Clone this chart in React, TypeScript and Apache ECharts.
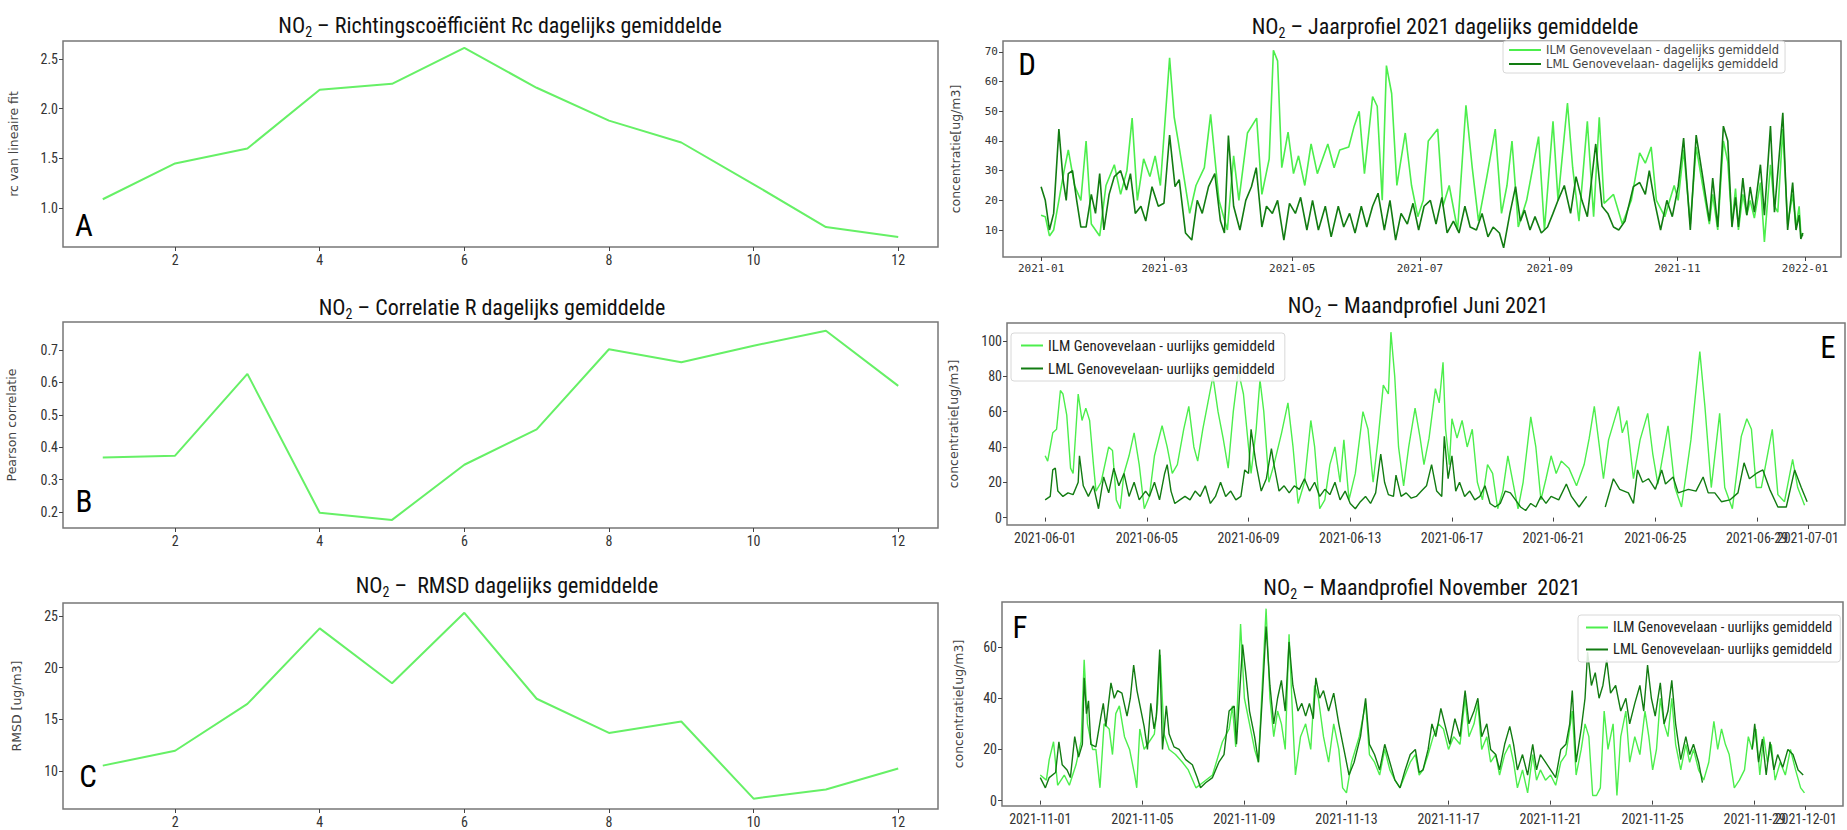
import React, { useEffect, useRef } from "react";
import * as echarts from "echarts";

// ---------- data ----------
const months = [1, 2, 3, 4, 5, 6, 7, 8, 9, 10, 11, 12];
const rcValues = [1.09, 1.45, 1.6, 2.19, 2.25, 2.61, 2.21, 1.88, 1.66, 1.24, 0.81, 0.71];
const pearsonValues = [0.368, 0.374, 0.626, 0.198, 0.176, 0.346, 0.455, 0.702, 0.662, 0.713, 0.759, 0.589];
const rmsdValues = [10.54, 11.98, 16.5, 23.8, 18.5, 25.3, 17.0, 13.7, 14.8, 7.35, 8.24, 10.26];

const monthTicks = [2, 4, 6, 8, 10, 12];
const rcTicks = [1.0, 1.5, 2.0, 2.5];
const pearsonTicks = [0.2, 0.3, 0.4, 0.5, 0.6, 0.7];
const rmsdTicks = [10, 15, 20, 25];
const yearTicksY = [10, 20, 30, 40, 50, 60, 70];
const juneTicksY = [0, 20, 40, 60, 80, 100];
const novTicksY = [0, 20, 40, 60];

// [day of year offset, ug/m3]
const ilmYear: [number, number][] = [
  [0, 15], [2, 14.5], [4, 8], [6, 10], [8.5, 20], [11, 30], [13, 37], [16, 25], [19, 20], [21.5, 40], [24, 12], [28, 8],
  [31, 25], [35, 32], [38, 22], [41, 30], [43.5, 47.7], [46, 20], [49, 34], [52, 28], [54.5, 35], [57, 25], [61.4, 68],
  [63.6, 48], [65.5, 40], [68, 29], [71, 15.6], [74, 25], [78, 31], [81, 49], [85, 20], [89, 10], [92, 35], [94.5, 20],
  [98.6, 42.7], [103, 47.7], [105.5, 22], [109, 34], [111, 70.6], [113, 67], [115, 31], [118, 43], [120.6, 29], [123, 35],
  [126, 25], [129, 39], [132, 29], [134.5, 34], [137, 39], [140, 31], [142.7, 37], [147, 38], [149.6, 45], [152, 50],
  [154.5, 29], [158.4, 55], [160.6, 51.7], [163, 20], [165, 65.4], [167.5, 56], [170, 25], [174, 42.7], [177, 25],
  [180, 14.5], [182.6, 20], [185, 40], [189.5, 44], [192, 18], [195, 25], [199, 10], [203, 52], [206, 31], [209, 13],
  [213, 28], [217, 44], [220, 15.6], [222.6, 25], [225, 40], [228, 11], [232, 20], [237.7, 41.5], [240.5, 10],
  [244.6, 46.6], [247, 20], [251.5, 52.8], [254, 31], [257, 13], [261, 46.6], [264, 14.5], [266.7, 48], [269, 19],
  [273.5, 22], [277.7, 12], [282, 20], [286, 36], [288.7, 32.5], [291.5, 38], [294, 20], [298, 14.5], [302.5, 25],
  [304.4, 20], [307, 37], [310.2, 12], [313, 38], [316.1, 25], [319.3, 12], [320.9, 22], [323.3, 10], [326, 40],
  [328.1, 33], [330.1, 12], [331.8, 24], [333.2, 10], [335.3, 22], [337.2, 15], [338.8, 20], [340.8, 14], [343.7, 26],
  [345.6, 6], [348.5, 32], [350.4, 18], [352, 16], [354.4, 44], [356.7, 12], [359.1, 22], [360.7, 11], [362.2, 18],
  [363, 9], [364, 8],
];
const lmlYear: [number, number][] = [
  [0, 24.6], [2, 20], [4, 10], [6, 15.6], [8.5, 44], [10.5, 27], [12, 20], [13, 29], [15, 30], [17, 20], [19, 11],
  [21.5, 11], [24, 22], [26, 15.6], [28, 29], [30, 10], [32.5, 22], [35, 28], [38, 30], [40.8, 23.5], [42.7, 29],
  [45, 15.6], [47.7, 18], [50, 13], [53, 24.6], [56, 18], [58.7, 19], [61.4, 42], [64, 24.6], [66, 27], [69, 9],
  [72, 6.6], [74.6, 20], [77, 15.6], [80, 24.6], [83, 29], [85.7, 13], [87.6, 9], [89.5, 41.8], [92, 18], [95, 10],
  [97.8, 20], [100.5, 24.6], [102.8, 31], [105.5, 11], [107.7, 18], [110.5, 15.6], [113, 20], [116, 6.6], [118.7, 19],
  [121.5, 15.6], [124, 21], [127, 10], [129.7, 20], [132.5, 10], [135.8, 18], [138.6, 7.7], [142, 18], [144.6, 11],
  [147.4, 15.6], [150, 9], [153, 18], [155.6, 11], [158.4, 18], [161, 22.4], [164, 10], [166.7, 20], [169.4, 6.6],
  [172, 15.6], [175, 12], [177.7, 19], [180.4, 10], [183, 18], [186, 20], [188.7, 12], [191.5, 21], [194, 9], [197, 13],
  [199.7, 9], [202.5, 18], [205, 11], [208, 10], [210.7, 15.6], [213.5, 7.7], [216, 11], [219, 9], [221, 4],
  [224, 15.6], [226.7, 24.6], [229, 13], [231, 16.7], [233.6, 10], [236, 14.5], [239, 9], [242, 11], [244.6, 15.6],
  [247, 20], [250, 25], [253, 15.6], [255.6, 28], [258.4, 20], [261, 14.5], [265, 39], [268, 18], [270.8, 15.6],
  [273.5, 11], [276, 10], [279, 13], [283, 24.6], [286, 26], [288.7, 22], [290.6, 30], [293, 20], [296, 10], [299, 20],
  [301.6, 14.5], [304.4, 24.6], [307, 41], [310.2, 10], [313, 42], [316.1, 28], [319.3, 13], [320.9, 27.5],
  [323.3, 11], [326, 45], [328.1, 40], [330.1, 11], [331.8, 21], [333.2, 11], [335.3, 27.5], [337.2, 15], [338.8, 24.5],
  [340.8, 16], [343.7, 32], [345.6, 15], [348.5, 45], [350.4, 16], [354.4, 49.5], [356.7, 10], [359.1, 26],
  [360.7, 10], [362.2, 15], [363, 7], [364, 9],
];

// [day offset from 2021-06-01, ug/m3]
const ilmJune: [number, number | null][] = [
  [0, 35], [0.1, 32], [0.3, 48], [0.45, 50], [0.6, 72], [0.7, 70], [0.85, 58], [1.0, 28], [1.1, 25], [1.3, 70],
  [1.45, 55], [1.6, 62], [1.75, 55], [1.9, 30], [2.0, 15], [2.2, 20], [2.5, 40], [2.65, 38], [2.8, 10], [2.95, 5],
  [3.1, 25], [3.3, 35], [3.5, 48], [3.7, 30], [3.9, 5], [4.1, 12], [4.3, 35], [4.6, 52], [4.8, 40], [5.0, 25], [5.2, 30],
  [5.45, 50], [5.65, 63], [5.85, 40], [6.0, 32], [6.2, 50], [6.4, 65], [6.6, 80], [6.8, 60], [7.0, 45], [7.2, 28],
  [7.4, 60], [7.6, 83], [7.8, 70], [8.0, 40], [8.1, 25], [8.3, 50], [8.45, 78], [8.6, 60], [8.8, 20], [9.0, 30],
  [9.3, 48], [9.55, 65], [9.75, 40], [9.95, 8], [10.2, 20], [10.45, 55], [10.6, 40], [10.8, 5], [11.0, 10], [11.2, 30],
  [11.4, 40], [11.6, 20], [11.75, 44], [11.95, 10], [12.2, 25], [12.5, 60], [12.7, 50], [12.9, 20], [13.1, 45],
  [13.3, 75], [13.5, 70], [13.6, 105], [13.75, 80], [13.9, 40], [14.1, 18], [14.3, 40], [14.55, 62], [14.75, 45],
  [14.9, 30], [15.1, 45], [15.35, 73], [15.5, 65], [15.65, 88], [15.75, 50], [15.9, 30], [16.0, 56], [16.2, 45],
  [16.4, 55], [16.6, 40], [16.8, 50], [17.0, 20], [17.2, 10], [17.4, 30], [17.6, 25], [17.8, 5], [18.0, 15], [18.2, 35],
  [18.4, 20], [18.6, 5], [18.8, 20], [19.1, 57], [19.3, 40], [19.5, 10], [19.7, 22], [19.9, 35], [20.1, 25], [20.3, 32],
  [20.6, 28], [20.9, 18], [21.2, 30], [21.4, 45], [21.6, 63], [21.96, 22], [22.16, 44], [22.55, 63], [22.7, 48],
  [22.88, 55], [23.14, 22], [23.4, 44], [23.7, 59], [23.9, 36], [24.1, 19], [24.5, 52], [24.77, 17], [25.03, 6],
  [25.4, 44], [25.75, 94], [25.95, 63], [26.2, 17], [26.53, 59], [26.73, 17], [27.03, 5], [27.38, 46], [27.6, 56],
  [27.78, 50], [27.97, 17], [28.17, 17], [28.6, 50], [28.82, 13], [29.08, 9], [29.4, 33], [29.6, 17], [29.87, 7],
];
const lmlJune: [number, number | null][] = [
  [0, 10], [0.2, 12], [0.3, 27], [0.4, 28], [0.5, 15], [0.7, 12], [0.9, 14], [1.1, 13], [1.3, 20], [1.35, 35],
  [1.5, 18], [1.7, 12], [1.9, 18], [2.1, 5], [2.3, 23], [2.5, 14], [2.7, 28], [2.9, 18], [3.1, 25], [3.3, 12], [3.5, 20],
  [3.7, 10], [3.95, 15], [4.1, 12], [4.3, 20], [4.5, 10], [4.7, 25], [4.8, 30], [4.95, 15], [5.1, 8], [5.3, 10],
  [5.5, 12], [5.7, 10], [5.9, 15], [6.1, 12], [6.3, 18], [6.5, 8], [6.7, 12], [6.9, 20], [7.1, 12], [7.3, 15], [7.5, 10],
  [7.7, 12], [7.85, 27], [8.0, 25], [8.1, 50], [8.3, 30], [8.5, 15], [8.7, 22], [8.9, 39], [9.0, 30], [9.2, 15],
  [9.4, 18], [9.6, 14], [9.8, 18], [10.0, 16], [10.2, 22], [10.4, 15], [10.6, 20], [10.8, 12], [11.0, 16], [11.2, 13],
  [11.4, 20], [11.6, 10], [11.8, 15], [12.0, 8], [12.2, 5], [12.4, 9], [12.6, 12], [12.8, 8], [13.0, 14], [13.2, 36],
  [13.35, 20], [13.5, 13], [13.7, 12], [13.8, 24], [14.0, 12], [14.2, 14], [14.4, 11], [14.6, 12], [14.8, 15],
  [15.0, 18], [15.2, 30], [15.4, 15], [15.6, 12], [15.7, 46], [15.85, 22], [16.0, 35], [16.15, 15], [16.3, 20],
  [16.5, 12], [16.7, 15], [16.9, 10], [17.1, 12], [17.3, 18], [17.5, 8], [17.7, 6], [17.9, 8], [18.1, 15], [18.3, 14],
  [18.5, 10], [18.7, 6], [18.9, 4], [19.1, 8], [19.3, 6], [19.5, 12], [19.7, 8], [19.9, 12], [20.2, 10], [20.5, 19],
  [20.7, 12], [21.0, 6], [21.3, 12], [21.6, null], [22.03, 6], [22.35, 22], [22.6, 16], [22.94, 14], [23.14, 8],
  [23.3, 27], [23.5, 20], [23.73, 22], [24.0, 16], [24.25, 27], [24.4, 19], [24.7, 23], [24.9, 14], [25.3, 16],
  [25.6, 15], [25.88, 23], [26.08, 14], [26.34, 14], [26.6, 9], [26.93, 10], [27.25, 14], [27.49, 31], [27.7, 22],
  [27.97, 25], [28.23, 27], [28.5, 16], [28.82, 6], [29.15, 6], [29.48, 27], [29.74, 17], [29.97, 9],
];

// [day offset from 2021-11-01, ug/m3]
const ilmNov: [number, number | null][] = [
  [0, 10], [0.24, 8], [0.35, 16], [0.52, 23], [0.68, 6], [0.94, 10], [1.14, 6], [1.4, 14], [1.6, 23], [1.72, 55],
  [1.85, 30], [2.05, 20], [2.18, 20], [2.34, 5], [2.5, 30], [2.7, 28], [2.83, 18], [2.96, 34], [3.1, 37], [3.3, 25],
  [3.5, 20], [3.7, 10], [3.78, 5], [3.9, 28], [4.07, 20], [4.27, 23], [4.47, 26], [4.6, 38], [4.7, 57], [4.85, 26],
  [5.05, 20], [5.3, 18], [5.57, 15], [5.8, 12], [6.1, 5], [6.36, 7], [6.75, 10], [7.14, 23], [7.4, 28], [7.53, 37],
  [7.66, 21], [7.85, 69], [8.0, 40], [8.2, 30], [8.4, 20], [8.55, 15], [8.7, 45], [8.85, 75], [9.0, 40], [9.15, 25],
  [9.3, 35], [9.45, 30], [9.6, 20], [9.75, 65], [9.9, 30], [10.0, 10], [10.2, 25], [10.4, 30], [10.6, 20], [10.75, 45],
  [10.9, 40], [11.1, 25], [11.3, 15], [11.5, 30], [11.7, 20], [11.85, 5], [12.0, 3], [12.2, 15], [12.5, 25],
  [12.75, 38], [12.9, 18], [13.1, 15], [13.3, 10], [13.5, 20], [13.7, 12], [13.9, 8], [14.1, 5], [14.3, 10], [14.5, 15],
  [14.7, 18], [14.85, 10], [15.0, 12], [15.2, 18], [15.4, 25], [15.6, 30], [15.8, 28], [16.0, 20], [16.2, 25],
  [16.45, 22], [16.65, 40], [16.8, 25], [17.0, 30], [17.15, 38], [17.3, 20], [17.5, 25], [17.65, 15], [17.85, 18],
  [18.0, 10], [18.2, 18], [18.4, 22], [18.55, 15], [18.7, 5], [18.9, 12], [19.1, 3], [19.3, 18], [19.45, 8], [19.6, 12],
  [19.8, 8], [20.0, 10], [20.2, 6], [20.4, 15], [20.6, 18], [20.85, 35], [21.0, 10], [21.2, 20], [21.35, 30],
  [21.5, 25], [21.65, 2], [21.8, 2], [21.95, 5], [22.1, 35], [22.25, 20], [22.45, 30], [22.6, 2], [22.75, 25],
  [22.95, 35], [23.1, 15], [23.3, 25], [23.5, 18], [23.7, 35], [23.85, 25], [24.0, 12], [24.15, 20], [24.3, 40],
  [24.45, 30], [24.6, 25], [24.75, 40], [24.9, 22], [25.1, 12], [25.3, 22], [25.45, 15], [25.6, 20], [25.8, 12],
  [26.0, 8], [26.2, 15], [26.4, 31], [26.55, 20], [26.7, 28], [26.85, 22], [27.0, 18], [27.2, 5], [27.4, 8], [27.6, 12],
  [27.75, 25], [27.9, 20], [28.05, 28], [28.2, 10], [28.35, 25], [28.5, 15], [28.65, 22], [28.8, 8], [29.0, 15],
  [29.2, 10], [29.4, 20], [29.6, 12], [29.8, 5], [29.95, 3],
];
const lmlNov: [number, number | null][] = [
  [0, 9], [0.2, 5], [0.35, 9], [0.6, 11], [0.73, 23], [0.86, 14], [1.05, 12], [1.18, 9], [1.35, 25], [1.5, 17],
  [1.65, 22], [1.72, 48], [1.81, 34], [1.89, 39], [1.98, 22], [2.18, 21], [2.38, 33], [2.47, 38], [2.57, 29],
  [2.77, 46], [2.9, 40], [3.03, 43], [3.2, 42], [3.4, 33], [3.53, 40], [3.66, 53], [3.79, 43], [4.07, 29], [4.2, 20],
  [4.33, 38], [4.46, 28], [4.55, 33], [4.68, 59], [4.79, 20], [4.94, 37], [5.05, 26], [5.24, 21], [5.44, 20], [5.7, 16],
  [5.96, 14], [6.15, 9], [6.28, 5], [6.48, 7], [6.75, 9], [7.0, 15], [7.2, 18], [7.4, 35], [7.6, 37], [7.69, 22],
  [7.93, 61], [8.05, 50], [8.2, 35], [8.4, 25], [8.55, 15], [8.7, 40], [8.85, 68], [9.0, 45], [9.15, 30], [9.3, 40],
  [9.45, 47], [9.6, 35], [9.75, 62], [9.9, 45], [10.1, 35], [10.25, 38], [10.4, 33], [10.55, 38], [10.7, 32],
  [10.8, 48], [10.95, 40], [11.1, 43], [11.3, 35], [11.5, 42], [11.7, 30], [11.9, 20], [12.1, 10], [12.3, 15],
  [12.55, 25], [12.75, 40], [12.9, 22], [13.1, 18], [13.3, 12], [13.5, 22], [13.7, 15], [13.9, 8], [14.1, 5], [14.3, 12],
  [14.5, 18], [14.7, 20], [14.85, 11], [15.0, 12], [15.2, 20], [15.35, 30], [15.5, 25], [15.7, 36], [15.85, 30],
  [16.05, 22], [16.25, 32], [16.45, 25], [16.65, 43], [16.8, 30], [17.0, 35], [17.15, 40], [17.3, 25], [17.5, 30],
  [17.65, 20], [17.85, 18], [18.0, 12], [18.2, 22], [18.4, 29], [18.55, 22], [18.7, 12], [18.9, 18], [19.1, 10],
  [19.3, 22], [19.45, 12], [19.6, 18], [19.8, 15], [20.0, 12], [20.2, 9], [20.4, 20], [20.6, 22], [20.75, 30],
  [20.85, 43], [21.0, 15], [21.2, 28], [21.35, 40], [21.45, 58], [21.6, 45], [21.75, 50], [21.9, 40], [22.05, 45],
  [22.2, 55], [22.35, 42], [22.55, 45], [22.75, 35], [22.95, 40], [23.1, 30], [23.3, 38], [23.5, 45], [23.65, 35],
  [23.8, 53], [23.95, 40], [24.1, 33], [24.3, 46], [24.45, 30], [24.6, 35], [24.75, 47], [24.9, 30], [25.1, 16],
  [25.3, 25], [25.45, 18], [25.6, 22], [25.8, 15], [25.95, 7], [26.9, null], [27.9, 20], [28.0, 30], [28.15, 15],
  [28.3, 24], [28.45, 10], [28.6, 23], [28.75, 12], [28.9, 18], [29.1, 13], [29.3, 20], [29.5, 18], [29.7, 12],
  [29.9, 10],
];

const legendYear = ["ILM Genovevelaan - dagelijks gemiddeld", "LML Genovevelaan- dagelijks gemiddeld"];
const legendHour = ["ILM Genovevelaan - uurlijks gemiddeld", "LML Genovevelaan- uurlijks gemiddeld"];

// ---------- styling ----------
const NARROW = "'Liberation Sans Narrow', 'Arial Narrow', 'Roboto Condensed', sans-serif";
const DJ = "'DejaVu Sans', sans-serif";
const MONO = "'DejaVu Sans Mono', monospace";
const ABC_GREEN = "#66f066";
const ILM_GREEN = "#4cee4c";
const LML_GREEN = "#127c12";
const DAY = 86400000;

const JAN1 = new Date(2021, 0, 1).getTime();
const JUN1 = new Date(2021, 5, 1).getTime();
const NOV1 = new Date(2021, 10, 1).getTime();

const toTime = (base: number, pts: [number, number | null][]) =>
  pts.map(([d, v]) => [base + d * DAY, v === null ? "-" : v]);

const pad = (n: number) => (n < 10 ? "0" + n : "" + n);
const fmtMonth = (v: number) => {
  const d = new Date(v);
  return d.getFullYear() + "-" + pad(d.getMonth() + 1);
};
const fmtDay = (v: number) => {
  const d = new Date(v);
  return d.getFullYear() + "-" + pad(d.getMonth() + 1) + "-" + pad(d.getDate());
};

const yearTicksX = [0, 2, 4, 6, 8, 10, 12].map((m) => new Date(2021, m, 1).getTime());
const juneTicksX = [1, 5, 9, 13, 17, 21, 25, 29].map((d) => new Date(2021, 5, d).getTime());
const juneEndTick = [new Date(2021, 6, 1).getTime()];
const novTicksX = [1, 5, 9, 13, 17, 21, 25, 29].map((d) => new Date(2021, 10, d).getTime());
const novEndTick = [new Date(2021, 11, 1).getTime()];

const frame = { show: true, borderColor: "#777", borderWidth: 1.5, backgroundColor: "transparent" };
const grids = [
  { left: 63, top: 41, width: 875, height: 206, ...frame },
  { left: 63, top: 322, width: 875, height: 206, ...frame },
  { left: 63, top: 603, width: 875, height: 206, ...frame },
  { left: 1003, top: 41, width: 838, height: 216, ...frame },
  { left: 1007, top: 323, width: 838, height: 202, ...frame },
  { left: 1002, top: 602, width: 841, height: 204, ...frame },
];

function xAxis(gridIndex: number, min: number, max: number, ticks: number[], fmt: any, font: string, size: number) {
  return {
    type: "value", gridIndex, min, max, position: "bottom",
    axisLine: { show: false },
    splitLine: { show: false },
    axisTick: { show: true, customValues: ticks, length: 4, lineStyle: { color: "#444", width: 1 } },
    axisLabel: {
      customValues: ticks, formatter: fmt, fontFamily: font, fontSize: size, color: "#333", margin: 6,
      hideOverlap: false, showMaxLabel: true, showMinLabel: true,
    },
  };
}
function yAxis(gridIndex: number, min: number, max: number, ticks: number[], fmt: any, font: string, size: number, name: string, nameGap: number) {
  return {
    type: "value", gridIndex, min, max,
    name, nameLocation: "middle", nameGap, nameRotate: 90,
    nameTextStyle: { fontFamily: DJ, fontSize: 12.5, color: "#444" },
    axisLine: { show: false },
    splitLine: { show: false },
    axisTick: { show: true, customValues: ticks, length: 4, lineStyle: { color: "#444", width: 1 } },
    axisLabel: { customValues: ticks, formatter: fmt, fontFamily: font, fontSize: size, color: "#333", margin: 5, showMaxLabel: true, showMinLabel: true },
  };
}

function titleText(x: number, y: number, rest: string) {
  return {
    type: "text", x, y, z: 10,
    style: {
      text: "{m|NO}{s|2}{m|" + rest + "}",
      align: "center", verticalAlign: "middle",
      rich: {
        m: { fontFamily: NARROW, fontSize: 22, lineHeight: 28, fill: "#111" },
        s: { fontFamily: NARROW, fontSize: 14, lineHeight: 14, fill: "#111", verticalAlign: "bottom", padding: [10, 0, 0, 0] },
      },
    },
  };
}
function letter(x: number, y: number, t: string) {
  return {
    type: "text", x, y, z: 10,
    style: { text: t, fontFamily: NARROW, fontSize: 31, fill: "#000", align: "center", verticalAlign: "middle" },
  };
}

function lineSeries(name: string, x: number, data: any[], color: string, width: number) {
  return {
    type: "line", name, xAxisIndex: x, yAxisIndex: x, data, showSymbol: false, symbol: "none",
    lineStyle: { color, width }, itemStyle: { color }, emphasis: { disabled: true }, silent: true,
  };
}

function buildOption() {
  const f1 = (v: number) => v.toFixed(1);
  const f0 = (v: number) => String(Math.round(v));
  const legendBase = {
    orient: "vertical", icon: "rect", itemHeight: 2,
    backgroundColor: "rgba(255,255,255,0.85)", borderColor: "#d8d8d8", borderWidth: 1, borderRadius: 3,
  };
  const juneMin = JUN1 - 1.5 * DAY, juneMax = JUN1 + (29.96 + 1.5) * DAY;
  const novMin = NOV1 - 1.5 * DAY, novMax = NOV1 + (29.96 + 1.5) * DAY;
  return {
    animation: false,
    backgroundColor: "#fff",
    grid: grids,
    xAxis: [
      xAxis(0, 0.45, 12.55, monthTicks, f0, NARROW, 14),
      xAxis(1, 0.45, 12.55, monthTicks, f0, NARROW, 14),
      xAxis(2, 0.45, 12.55, monthTicks, f0, NARROW, 14),
      xAxis(3, JAN1 - 18.2 * DAY, JAN1 + (364 + 18.2) * DAY, yearTicksX, fmtMonth, MONO, 11),
      xAxis(4, juneMin, juneMax, juneTicksX, fmtDay, NARROW, 14),
      xAxis(5, novMin, novMax, novTicksX, fmtDay, NARROW, 14),
      xAxis(4, juneMin, juneMax, juneEndTick, fmtDay, NARROW, 14),
      xAxis(5, novMin, novMax, novEndTick, fmtDay, NARROW, 14),
    ],
    yAxis: [
      yAxis(0, 0.61, 2.68, rcTicks, f1, NARROW, 14, "rc van lineaire fit", 43),
      yAxis(1, 0.151, 0.786, pearsonTicks, f1, NARROW, 14, "Pearson correlatie", 45),
      yAxis(2, 6.35, 26.25, rmsdTicks, f0, NARROW, 14, "RMSD [ug/m3]", 40),
      yAxis(3, 0.9, 73.7, yearTicksY, f0, MONO, 11, "concentratie[ug/m3]", 41),
      yAxis(4, -4.2, 110.2, juneTicksY, f0, NARROW, 14, "concentratie[ug/m3]", 47),
      yAxis(5, -2.1, 77.6, novTicksY, f0, NARROW, 14, "concentratie[ug/m3]", 37),
    ],
    legend: [
      {
        ...legendBase, data: legendYear, left: 1503, top: 41, itemGap: 2, itemWidth: 32, padding: [3, 6],
        textStyle: { fontFamily: DJ, fontSize: 11.5, color: "#444" },
      },
      {
        ...legendBase, data: legendHour, left: 1011, top: 333, itemGap: 8, itemWidth: 22, padding: [5, 10],
        textStyle: { fontFamily: NARROW, fontSize: 15, color: "#222" },
      },
      {
        ...legendBase, data: legendHour, left: 1578, top: 615, itemGap: 7, itemWidth: 22, padding: [5, 8],
        textStyle: { fontFamily: NARROW, fontSize: 14.5, color: "#222" },
      },
    ],
    series: [
      lineSeries("rc", 0, months.map((m, i) => [m, rcValues[i]]), ABC_GREEN, 2),
      lineSeries("r", 1, months.map((m, i) => [m, pearsonValues[i]]), ABC_GREEN, 2),
      lineSeries("rmsd", 2, months.map((m, i) => [m, rmsdValues[i]]), ABC_GREEN, 2),
      lineSeries(legendYear[0], 3, toTime(JAN1, ilmYear), ILM_GREEN, 1.6),
      lineSeries(legendYear[1], 3, toTime(JAN1, lmlYear), LML_GREEN, 1.6),
      lineSeries(legendHour[0], 4, toTime(JUN1, ilmJune), ILM_GREEN, 1.4),
      lineSeries(legendHour[1], 4, toTime(JUN1, lmlJune), LML_GREEN, 1.4),
      lineSeries(legendHour[0], 5, toTime(NOV1, ilmNov), ILM_GREEN, 1.4),
      lineSeries(legendHour[1], 5, toTime(NOV1, lmlNov), LML_GREEN, 1.4),
    ],
    graphic: [
      titleText(500, 25, " \u2013 Richtingsco\u00ebffici\u00ebnt Rc dagelijks gemiddelde"),
      titleText(492, 307, " \u2013 Correlatie R dagelijks gemiddelde"),
      titleText(507, 585, " \u2013  RMSD dagelijks gemiddelde"),
      titleText(1445, 26, " \u2013 Jaarprofiel 2021 dagelijks gemiddelde"),
      titleText(1418, 305, " \u2013 Maandprofiel Juni 2021"),
      titleText(1422, 587, " \u2013 Maandprofiel November  2021"),
      letter(84, 225, "A"),
      letter(84, 501, "B"),
      letter(88, 776, "C"),
      letter(1027, 64, "D"),
      letter(1828, 347, "E"),
      letter(1020, 627, "F"),
    ],
  };
}

export default function App() {
  const ref = useRef<HTMLDivElement>(null);
  useEffect(() => {
    document.body.style.margin = "0";
    const chart = echarts.init(ref.current as HTMLDivElement, null, { renderer: "svg" });
    chart.setOption(buildOption() as any);
    return () => chart.dispose();
  }, []);
  return <div ref={ref} style={{ width: 1847, height: 830, background: "#fff" }} />;
}
